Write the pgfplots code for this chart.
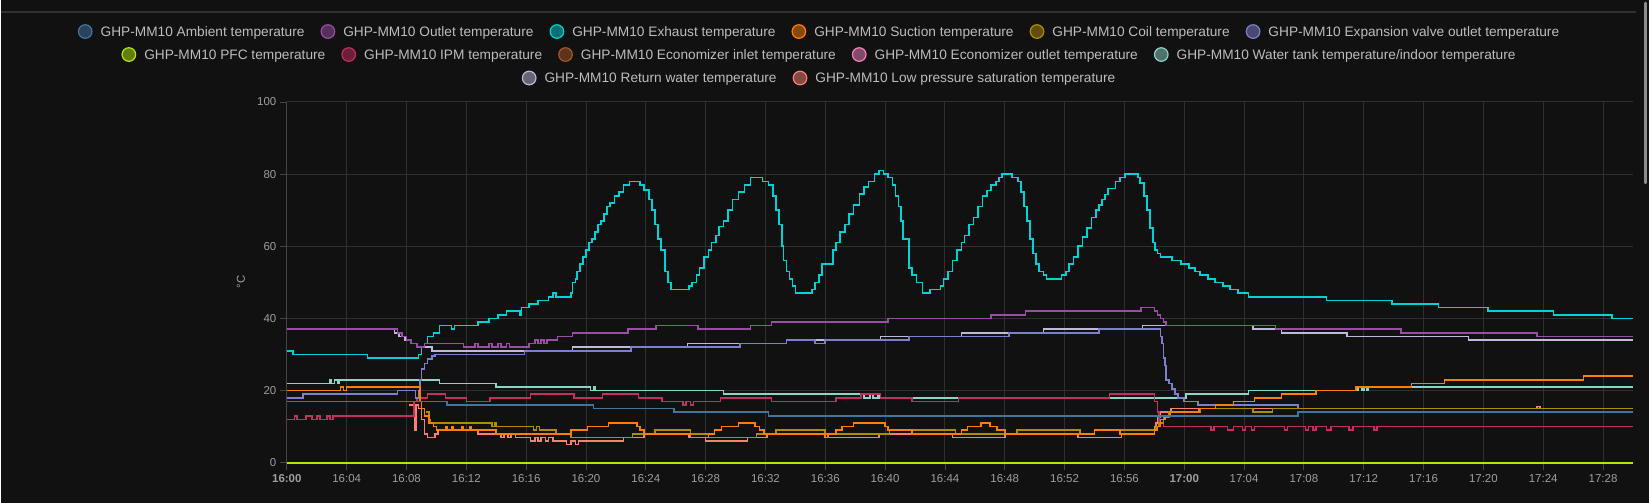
\documentclass[border=0pt]{standalone}
\usepackage{pgfplots}
\pgfplotsset{compat=1.18}
\usepackage{fontspec}
\setmainfont{Liberation Sans}
\definecolor{bgc}{HTML}{111111}
\definecolor{gridc}{HTML}{303030}
\definecolor{axc}{HTML}{454545}
\definecolor{tickc}{HTML}{9E9E9E}
\definecolor{legc}{HTML}{BDBDBD}
\definecolor{cA}{HTML}{44739E}
\definecolor{cB}{HTML}{984EA3}
\definecolor{cC}{HTML}{00D2D5}
\definecolor{cD}{HTML}{FF7F00}
\definecolor{cE}{HTML}{AF8D00}
\definecolor{cF}{HTML}{7F80CD}
\definecolor{cG}{HTML}{B3E900}
\definecolor{cH}{HTML}{C42E60}
\definecolor{cI}{HTML}{A65628}
\definecolor{cJ}{HTML}{F781BF}
\definecolor{cK}{HTML}{8DD3C7}
\definecolor{cL}{HTML}{BEBADA}
\definecolor{cM}{HTML}{FB8072}
\newcommand\legitem[2]{\tikz[baseline=-0.36em]\draw[line width=1.2pt,draw=#1,fill=#1!50!bgc] (0,0) circle (6.8pt);\hspace{8pt}#2}
\begin{document}
\begin{tikzpicture}
\fill[bgc] (0pt,0pt) rectangle (1649pt,503pt);
\draw[line width=2pt,color=gridc] (0pt,491pt) -- (1636pt,491pt);
\draw[line width=2.5pt,color=black!45,line cap=round] (1645.5pt,500pt) -- (1645.5pt,320pt);
\begin{axis}[
  at={(286pt,40pt)}, anchor=south west,
  scale only axis, width=1347pt, height=361pt,
  xmin=0, xmax=90, ymin=0, ymax=100,
  clip=false,
  axis lines*=left,
  axis line style={color=axc, line width=0.8pt},
  x axis line style={draw=none},
  xtick={0,4,...,88},
  xticklabels={\textbf{16:00},16:04,16:08,16:12,16:16,16:20,16:24,16:28,16:32,16:36,16:40,16:44,16:48,16:52,16:56,\textbf{17:00},17:04,17:08,17:12,17:16,17:20,17:24,17:28},
  ytick={0,20,...,100},
  /pgf/number format/assume math mode=true,
  tick align=outside, major tick length=7pt,
  tick style={color=axc, line width=0.8pt},
  grid=major, major grid style={color=gridc, line width=0.9pt},
  ticklabel style={font=\fontsize{11.5}{13}\selectfont, text=tickc},
  xticklabel style={yshift=-1pt},
  every axis plot/.append style={const plot, line width=1.6pt, mark=none, line join=miter},
]
% Low pressure saturation
\addplot[cM] coordinates {(8.2,16)(8.55,9)(8.65,16)(8.8,15)(9.0,12)(9.2,8)(9.4,7)(9.9,8)(10.1,9)(12.8,8)(14.3,7)(14.5,8)(14.8,7)(15.0,8)(15.3,7)(16.3,6)(16.6,7)(16.8,6)(17.0,7)(17.3,6)(17.5,7)(17.8,6)(18.7,5)(19.0,6)(19.3,5)(19.5,6)(22.5,7)(23.9,8)(26.9,7)(28.0,6)(30.8,7)(32.1,8)(36.0,7)(39.6,8)(44.5,7)(48.0,8)(52.9,7)(55.8,8)(58.0,10)(58.1,11)(58.2,12.5)(58.4,14)(59.1,15)(83.6,15.6)(83.8,15)(90,15)};
% Return water
\addplot[cL] coordinates {(0,37)(7.2,36)(7.5,35)(7.9,34)(8.3,33)(8.7,32)(9.7,31)(19.1,32)(26.8,33)(33.4,34)(39.7,35)(45.1,36)(50.6,37)(57.2,38)(64.6,37)(66.5,36)(70.9,35)(79.0,34)(90,34)};
% Water tank
\addplot[cK] coordinates {(0,22)(2.9,23)(3.0,22)(3.2,23)(3.4,22)(3.5,23)(10.2,22)(14.0,21)(20.3,20)(20.5,21)(20.6,20)(29.2,19)(38.6,18)(39.0,19)(39.2,18)(39.5,19)(39.6,18)(60.1,19)(64.3,20)(71.6,21)(71.9,20)(72.0,21)(72.2,20)(72.3,21)(90,21)};
% IPM
\addplot[cH] coordinates {(0,12)(0.5,13)(0.7,12)(1.3,13)(1.7,12)(2.0,13)(2.2,12)(2.7,13)(2.9,12)(3.1,13)(8.5,17)(8.7,18)(9.4,19)(10.6,18)(12.0,17)(13.6,18)(16.3,19)(19.2,18)(21.1,19)(23.5,18)(25.1,17)(26.5,16)(26.7,17)(27.0,16)(27.2,17)(29.0,18)(32.4,17)(36.7,18)(38.4,19)(39.7,18)(41.8,17)(44.9,18)(55.0,19)(58.0,17)(58.2,14)(58.3,11)(58.6,10)(61.8,9)(62.0,10)(62.9,9)(63.3,10)(63.9,9)(64.1,10)(64.5,9)(64.7,10)(66.7,9)(66.9,10)(68.1,9)(68.3,10)(68.6,9)(68.8,10)(69.5,9)(69.8,10)(71.0,9)(71.3,10)(72.7,9)(72.9,10)(90,10)};
% PFC
\addplot[cG] coordinates {(0,0)(90,0)};
% Expansion valve outlet
\addplot[cF] coordinates {(0,18)(1.1,19)(7.4,20)(8.6,18)(8.8,20)(8.9,23)(9.0,26)(9.2,27.5)(9.4,28.7)(9.7,29.5)(9.9,30)(15.9,31)(23.0,32)(30.3,33)(33.4,34)(35.3,33)(36.0,34)(41.6,35)(48.3,36)(54.3,37)(58.4,35)(58.5,33)(58.6,29)(58.7,27)(58.8,23)(59.0,22)(59.2,20.5)(59.4,19)(59.6,18)(60.0,17)(60.9,16)(67.6,15)(90,15)};
% Coil
\addplot[cE] coordinates {(9.3,14)(9.5,12)(9.6,11)(13.7,10)(13.9,11)(14.0,10)(16.5,9)(16.7,10)(16.9,9)(18.0,8)(19.0,7)(23.1,8)(24.6,9)(27.0,8)(28.2,7)(31.4,8)(32.7,9)(36.0,8)(40.3,9)(44.7,8)(48.8,9)(53.05,8)(54.0,9)(58.1,10)(58.3,11)(58.6,12.5)(59.0,14)(61.1,15)(64.6,14)(65.9,15)(90,15)};
% Suction
\addplot[cD] coordinates {(0,20)(3.6,21)(3.8,20)(4.0,21)(8.9,17)(9.0,15)(9.2,13)(9.5,11)(9.8,10)(10.0,9)(10.6,10)(10.7,9)(11.0,10)(11.1,9)(11.7,10)(11.8,9)(12.2,10)(12.3,9)(14.0,8)(19.0,9)(20.1,10)(21.5,11)(23.4,10)(23.6,9)(23.9,8)(27.0,7)(28.2,8)(28.6,9)(29.05,10)(30.2,11)(31.3,10)(31.6,9)(31.9,8)(36.0,7)(36.2,8)(36.7,9)(37.1,10)(37.9,11)(40.0,10)(40.2,9)(41.8,8)(45.1,9)(45.5,10)(46.4,11)(47.0,10)(47.5,9)(48.0,8)(54.0,9)(55.7,8)(58.0,9)(58.2,10)(58.4,12)(58.7,13)(59.05,14)(61.0,15)(62.1,16)(63.3,17)(64.7,18)(66.5,19)(68.8,20)(71.5,21)(75.2,22)(77.4,23)(86.7,24)(90,24)};
% Exhaust
\addplot[cC] coordinates {(0,31)(0.4,30)(5.4,29)(8.8,30)(9.0,32)(9.2,33)(9.4,35)(9.8,36)(10.2,38)(11.0,37)(11.2,38)(12.8,39)(13.5,40)(14.1,41)(14.7,42)(15.6,41)(15.7,43)(16.2,44)(16.8,45)(17.5,46)(17.8,47)(18.0,46)(19.0,47)(19.1,50)(19.3,51)(19.4,53)(19.6,55)(19.8,57)(20.0,59)(20.2,61)(20.4,62)(20.6,64)(20.8,66)(21.0,67)(21.2,69)(21.4,71)(21.6,72)(21.9,74)(22.2,75)(22.5,77)(22.9,78)(23.6,77)(23.9,75.6)(24.2,73)(24.4,70)(24.6,66)(24.8,62)(25.0,59)(25.3,53)(25.5,50)(25.7,48)(26.9,49)(27.1,50)(27.4,52)(27.6,54)(27.9,57)(28.2,59)(28.4,61)(28.7,63)(28.9,65.5)(29.2,67)(29.5,70)(29.8,73)(30.2,75)(30.6,77)(31.0,79)(31.8,78)(32.2,77)(32.5,74)(32.7,70)(32.9,66)(33.1,60)(33.2,56)(33.4,53)(33.6,51)(33.8,49)(34.0,47)(35.1,48)(35.3,50)(35.6,52)(35.8,55)(36.5,59)(36.7,61)(37.0,64)(37.3,66)(37.6,69)(37.9,71.5)(38.3,74.5)(38.6,76.5)(38.9,78)(39.3,80)(39.6,81)(39.9,80)(40.2,79)(40.5,77)(40.7,74)(40.9,71)(41.05,67)(41.2,62)(41.6,54)(41.8,52)(42.1,50)(42.5,47)(43.0,48)(43.7,49)(43.9,51)(44.2,53)(44.5,56)(44.8,59)(45.1,61)(45.3,63)(45.6,66)(45.9,68)(46.2,71)(46.5,74)(46.8,75.5)(47.1,77)(47.4,78)(47.6,79)(47.8,80)(48.5,79)(48.9,78)(49.1,75)(49.3,71)(49.5,67)(49.7,62)(49.9,58)(50.1,55)(50.3,53)(50.6,52)(50.8,51)(51.8,52)(52.1,53)(52.3,55)(52.6,57)(52.9,60)(53.2,62.5)(53.5,65)(53.8,68)(54.1,70)(54.3,71.5)(54.5,73)(54.7,74.3)(54.9,76)(55.4,78)(55.7,79)(56.05,80)(56.9,79)(57.05,77.5)(57.3,74)(57.5,70)(57.7,65)(57.9,61)(58.05,59)(58.2,58)(58.4,57)(59.2,56)(59.8,55)(60.3,54)(60.7,53)(61.05,52)(61.6,51)(62.05,50)(62.6,49)(63.05,48)(63.6,47)(64.3,46)(69.5,45)(73.9,44)(77,43)(80.3,42)(84.7,41)(88.6,40)(90,40)};
% Outlet
\addplot[cB] coordinates {(0,37)(7.4,36)(7.7,35)(8.0,34)(8.3,33)(8.7,32)(9.2,33)(11.8,32)(12.6,33)(12.8,32)(13.5,33)(13.7,32)(14.1,33)(14.3,32)(14.7,33)(14.9,32)(16.2,33)(16.6,34)(16.8,33)(17.0,34)(17.2,33)(17.4,34)(18.1,35)(19.1,36)(22.8,37)(24.7,38)(27.5,37)(31.0,38)(32.4,39)(40.2,40)(47.1,41)(49.4,42)(57.1,43)(58.0,42)(58.2,41)(58.4,40)(58.6,39)(58.8,38)(66.1,37)(74.5,36)(83.6,35)(90,35)};
% Ambient
\addplot[cA] coordinates {(0,17)(10.7,16)(20.5,15)(25.9,14)(32.2,13)(67.6,14)(90,14)};
\end{axis}
\node[rotate=90, text=tickc, font=\fontsize{11.5}{13}\selectfont] at (240pt,221pt) {°C};
\begin{scope}[every node/.style={anchor=base, inner sep=0pt, text=legc, font=\fontsize{13.7}{16}\selectfont}]
\node at (818pt,466.5pt) {\legitem{cA}{GHP-MM10 Ambient temperature}\hspace{16pt}\legitem{cB}{GHP-MM10 Outlet temperature}\hspace{16pt}\legitem{cC}{GHP-MM10 Exhaust temperature}\hspace{16pt}\legitem{cD}{GHP-MM10 Suction temperature}\hspace{16pt}\legitem{cE}{GHP-MM10 Coil temperature}\hspace{16pt}\legitem{cF}{GHP-MM10 Expansion valve outlet temperature}};
\node at (818pt,443.5pt) {\legitem{cG}{GHP-MM10 PFC temperature}\hspace{16pt}\legitem{cH}{GHP-MM10 IPM temperature}\hspace{16pt}\legitem{cI}{GHP-MM10 Economizer inlet temperature}\hspace{16pt}\legitem{cJ}{GHP-MM10 Economizer outlet temperature}\hspace{16pt}\legitem{cK}{GHP-MM10 Water tank temperature/indoor temperature}};
\node at (818pt,420pt) {\legitem{cL}{GHP-MM10 Return water temperature}\hspace{16pt}\legitem{cM}{GHP-MM10 Low pressure saturation temperature}};
\end{scope}
\end{tikzpicture}
\end{document}
